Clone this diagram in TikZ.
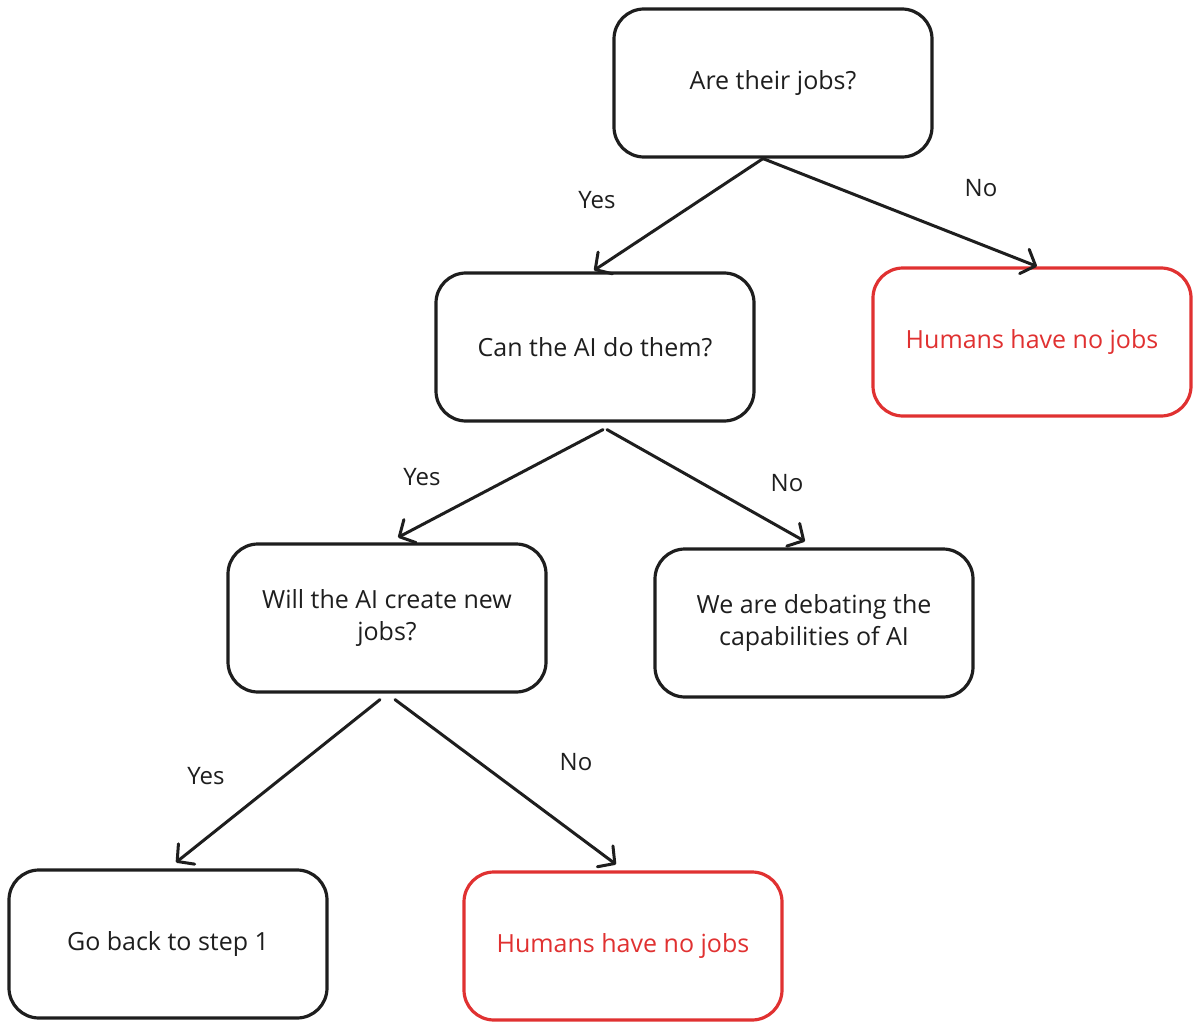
\documentclass[tikz,border=0pt]{standalone}
\usepackage{fontspec}
\setmainfont{Open Sans}
\usepackage{tikz}
\usetikzlibrary{calc}
\usetikzlibrary{arrows.meta}
\definecolor{boxred}{HTML}{E03131}
\definecolor{ink}{HTML}{1E1E1E}
\tikzset{
  box/.style={draw=ink, line width=3.2pt, rounded corners=30pt, minimum width=318pt,
    minimum height=148pt, align=center, text=ink, font=\fontsize{25}{32}\selectfont},
  redbox/.style={box, draw=boxred, text=boxred},
  arr/.style={draw=ink, line width=3pt, line cap=round,
    -{Straight Barb[length=12pt,width=26pt,line width=3pt,round]}},
  lbl/.style={text=ink, font=\fontsize{24}{28}\selectfont}
}

\begin{document}
\begin{tikzpicture}[x=1pt, y=-1pt]
        \useasboundingbox (0,0) rectangle (1200,1030);
        % row 1
        \node[box] (jobs) at (773,83) {Are their jobs?};
        % row 2
        \node[box] (cando) at (595,347) {Can the AI do them?};
        \node[redbox] (nojobsa) at (1032,342) {Humans have no jobs};
        % row 3
        \node[box] (newjobs) at (387,618) {Will the AI create new\\jobs?};
        \node[box] (debate) at (814,623) {We are debating the\\capabilities of AI};
        % row 4
        \node[box] (goback) at (168,944) {Go back to step 1};
        \node[redbox] (nojobsb) at (623,946) {Humans have no jobs};
        % arrows
        \draw[arr] ($(jobs.south)+(-10,0)$) -- ($(cando.north)+(-1,-1)$);
        \draw[arr] ($(jobs.south)+(-10,0)$) -- ($(nojobsa.north)+(5,0)$);
        \draw[arr] ($(cando.south)+(8,7)$) -- ($(newjobs.north)+(11,-5)$);
        \draw[arr] ($(cando.south)+(12,7)$) -- ($(debate.north)+(-9,-6)$);
        \draw[arr] ($(newjobs.south)+(-7,6)$) -- ($(goback.north)+(8,-6)$);
        \draw[arr] ($(newjobs.south)+(8,6)$) -- ($(nojobsb.north)+(-7,-6)$);
        % labels
        \node[lbl] (yesa) at (597,200) {Yes};
        \node[lbl] (noa) at (981,188) {No};
        \node[lbl] (yesb) at (422,477) {Yes};
        \node[lbl] (nob) at (787,483) {No};
        \node[lbl] (yesc) at (206,776) {Yes};
        \node[lbl] (noc) at (576,762) {No};
    \end{tikzpicture}
\end{document}
